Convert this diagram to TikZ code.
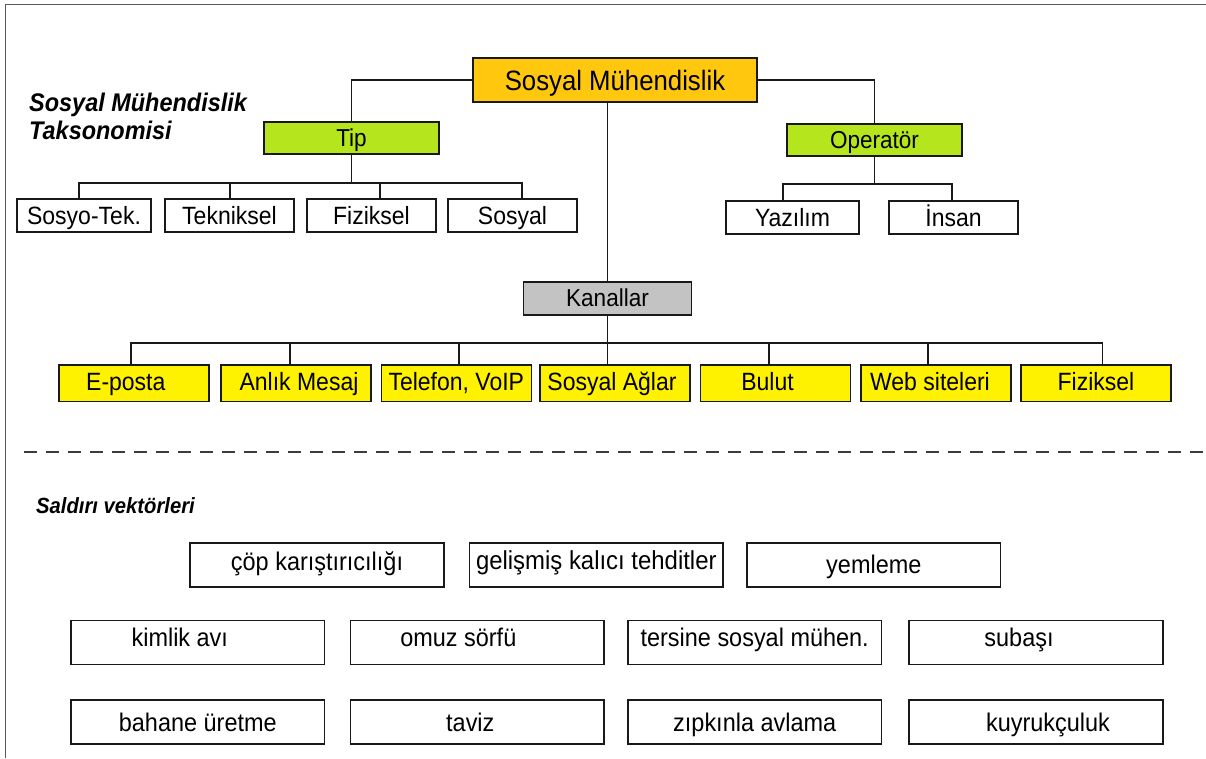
\documentclass[tikz,border=0pt]{standalone}
\usepackage{fontspec}
\setmainfont{Liberation Sans}[FakeStretch=0.92]
\usetikzlibrary{calc}
\definecolor{cGold}{RGB}{255,200,14}
\definecolor{cLime}{RGB}{181,230,29}
\definecolor{cGray}{RGB}{195,195,195}
\definecolor{cYel}{RGB}{255,242,0}
\definecolor{cInk}{RGB}{25,25,25}
\tikzset{
  wh/.style 2 args={minimum width=#1pt, minimum height=#2pt},
  bx/.style={draw=cInk, line width=1.6pt, inner sep=0pt, outer sep=0pt},
  wire/.style={draw=cInk, line width=1.4pt},
  rootbox/.style={bx, fill=cGold, font=\fontsize{28}{33}\selectfont, text height=20.4pt, text depth=0pt},
  lvlone/.style={bx, font=\fontsize{24.5}{29}\selectfont, text height=17.9pt, text depth=1.5pt},
  wbox/.style={bx, fill=white, font=\fontsize{25}{30}\selectfont, text height=18.25pt, text depth=1.25pt},
  ybox/.style={bx, fill=cYel, wh={150}{36.7}, font=\fontsize{25}{30}\selectfont, text height=18.25pt, text depth=3.85pt},
  ylab/.style={font=\fontsize{25}{30}\selectfont, text height=18.25pt, text depth=3.85pt, inner sep=0pt},
  vbox/.style={bx, fill=white, wh={253.5}{44}},
  vfont/.style={font=\fontsize{25.5}{30}\selectfont, inner sep=0pt},
  rowa/.style={vfont, text height=18.6pt, text depth=7.2pt},
  rowb/.style={vfont, text height=18.6pt, text depth=10.2pt},
  rowc/.style={vfont, text height=20.6pt, text depth=1.2pt},
  ttl/.style={font=\fontsize{25.5}{28.3}\selectfont\bfseries\itshape, inner sep=0pt},
  ttlb/.style={font=\fontsize{22}{26}\selectfont\bfseries\itshape, inner sep=0pt},
  sepline/.style={draw=cInk!85, line width=1.5pt, dash pattern=on 13pt off 9pt},
  bordr/.style={draw=black!65, line width=1.3pt},
}
\begin{document}
\begin{tikzpicture}[x=1pt,y=-1pt]
\useasboundingbox (0,0) rectangle (1206,758);
% outer frame (left and top edges)
\coordinate (fa) at (5.5,758);
\coordinate (fb) at (5.5,4.5);
\coordinate (fc) at (1206,4.5);
\draw[bordr] (fa) -- (fb) -- (fc);

% titles
\node[ttl, anchor=north west, align=left] (t1) at (29,92.5) {Sosyal Mühendislik\\Taksonomisi};
\node[ttlb, anchor=base west] (t2) at (36,513) {Saldırı vektörleri};

% top hierarchy
\node[rootbox, wh={284}{44}] (root) at (615,80) {Sosyal Mühendislik};
\node[lvlone, fill=cLime, wh={175}{32}] (tip) at (351.5,138) {Tip};
\node[lvlone, fill=cLime, wh={175}{32}] (op) at (874.5,140) {Operatör};
\node[lvlone, fill=cGray, wh={168}{33}] (kan) at (607.5,298.5) {Kanallar};

\node[wbox, wh={134}{33}] (st) at (84,215.5) {Sosyo-Tek.};
\node[wbox, wh={129}{33}] (tek) at (229.5,215.5) {Tekniksel};
\node[wbox, wh={129}{33}] (fiz) at (371.5,215.5) {Fiziksel};
\node[wbox, wh={129}{33}] (sos) at (512.5,215.5) {Sosyal};
\node[wbox, wh={133}{33}] (yaz) at (792.5,217.5) {Yazılım};
\node[wbox, wh={129}{33}] (ins) at (953.5,217.5) {İnsan};

\node[ybox, label={[ylab, xshift=-8pt]center:E-posta}] (ep) at (133.8,383.3) {};
\node[ybox, label={[ylab, xshift=3pt]center:Anlık Mesaj}] (an) at (296,383.3) {};
\node[ybox] (tel) at (456.3,383.3) {Telefon, VoIP};
\node[ybox, label={[ylab, xshift=-3pt]center:Sosyal Ağlar}] (sa) at (615,383.3) {};
\node[ybox, label={[ylab, xshift=-8pt]center:Bulut}] (bu) at (775.5,383.3) {};
\node[ybox, label={[ylab, xshift=-6pt]center:Web siteleri}] (web) at (936,383.3) {};
\node[ybox] (fz) at (1096,383.3) {Fiziksel};

% connectors
\draw[wire] (root.west) -| (tip.north);
\draw[wire] (root.east) -| (op.north);
\draw[wire] (kan.north) -- (kan.north |- root.south);

\coordinate (tb) at (tip.south |- 0,183);
\draw[wire] (tip.south) -- (tb);
\draw[wire] (tb) -| ([xshift=-5pt]st.north);
\draw[wire] (tb) -| ([xshift=0.5pt]tek.north);
\draw[wire] (tb) -| ([xshift=8.5pt]fiz.north);
\draw[wire] (tb) -| ([xshift=9.5pt]sos.north);

\coordinate (ob) at (op.south |- 0,184);
\draw[wire] (op.south) -- (ob);
\draw[wire] (ob) -| ([xshift=-9.5pt]yaz.north);
\draw[wire] (ob) -| ([xshift=-1.5pt]ins.north);

\coordinate (kb) at (kan.south |- 0,343);
\draw[wire] (kan.south) -- (kb);
\draw[wire] (kb) -| ([xshift=-2.8pt]ep.north);
\draw[wire] (kb) -| ([xshift=-6pt]an.north);
\draw[wire] (kb) -| ([xshift=2.7pt]tel.north);
\draw[wire] (kb) -| ([xshift=-7.5pt]sa.north);
\draw[wire] (kb) -| ([xshift=-6.5pt]bu.north);
\draw[wire] (kb) -| ([xshift=-8pt]web.north);
\draw[wire] (kb) -| ([xshift=6.5pt]fz.north);

% separator
\coordinate (d1) at (24,452);
\coordinate (d2) at (1206,452);
\draw[sepline] (d1) -- (d2);

% attack vectors
\node[vbox, rowa] (cop) at (317,565) {çöp karıştırıcılığı};
\node[vbox, vfont, font=\fontsize{26}{30}\selectfont, text height=19pt, text depth=11pt] (gel) at (596.3,565) {gelişmiş kalıcı tehditler};
\node[vbox, vfont, text height=18.6pt, text depth=2pt] (yem) at (873.8,565) {yemleme};

\node[vbox, label={[rowb, xshift=-18pt]center:kimlik avı}] (kim) at (197.8,642.5) {};
\node[vbox, label={[rowb, xshift=-19pt]center:omuz sörfü}] (omu) at (477.3,642.5) {};
\node[vbox, rowb] (ter) at (754.7,642.5) {tersine sosyal mühen.};
\node[vbox, label={[rowb, xshift=-17pt]center:subaşı}] (sub) at (1036,642.5) {};

\node[vbox, rowc] (bah) at (197.8,722) {bahane üretme};
\node[vbox, label={[rowc, xshift=-7pt]center:taviz}] (tav) at (477.3,722) {};
\node[vbox, rowc] (zip) at (754.7,722) {zıpkınla avlama};
\node[vbox, label={[rowc, xshift=12pt]center:kuyrukçuluk}] (kuy) at (1036,722) {};
\end{tikzpicture}
\end{document}
